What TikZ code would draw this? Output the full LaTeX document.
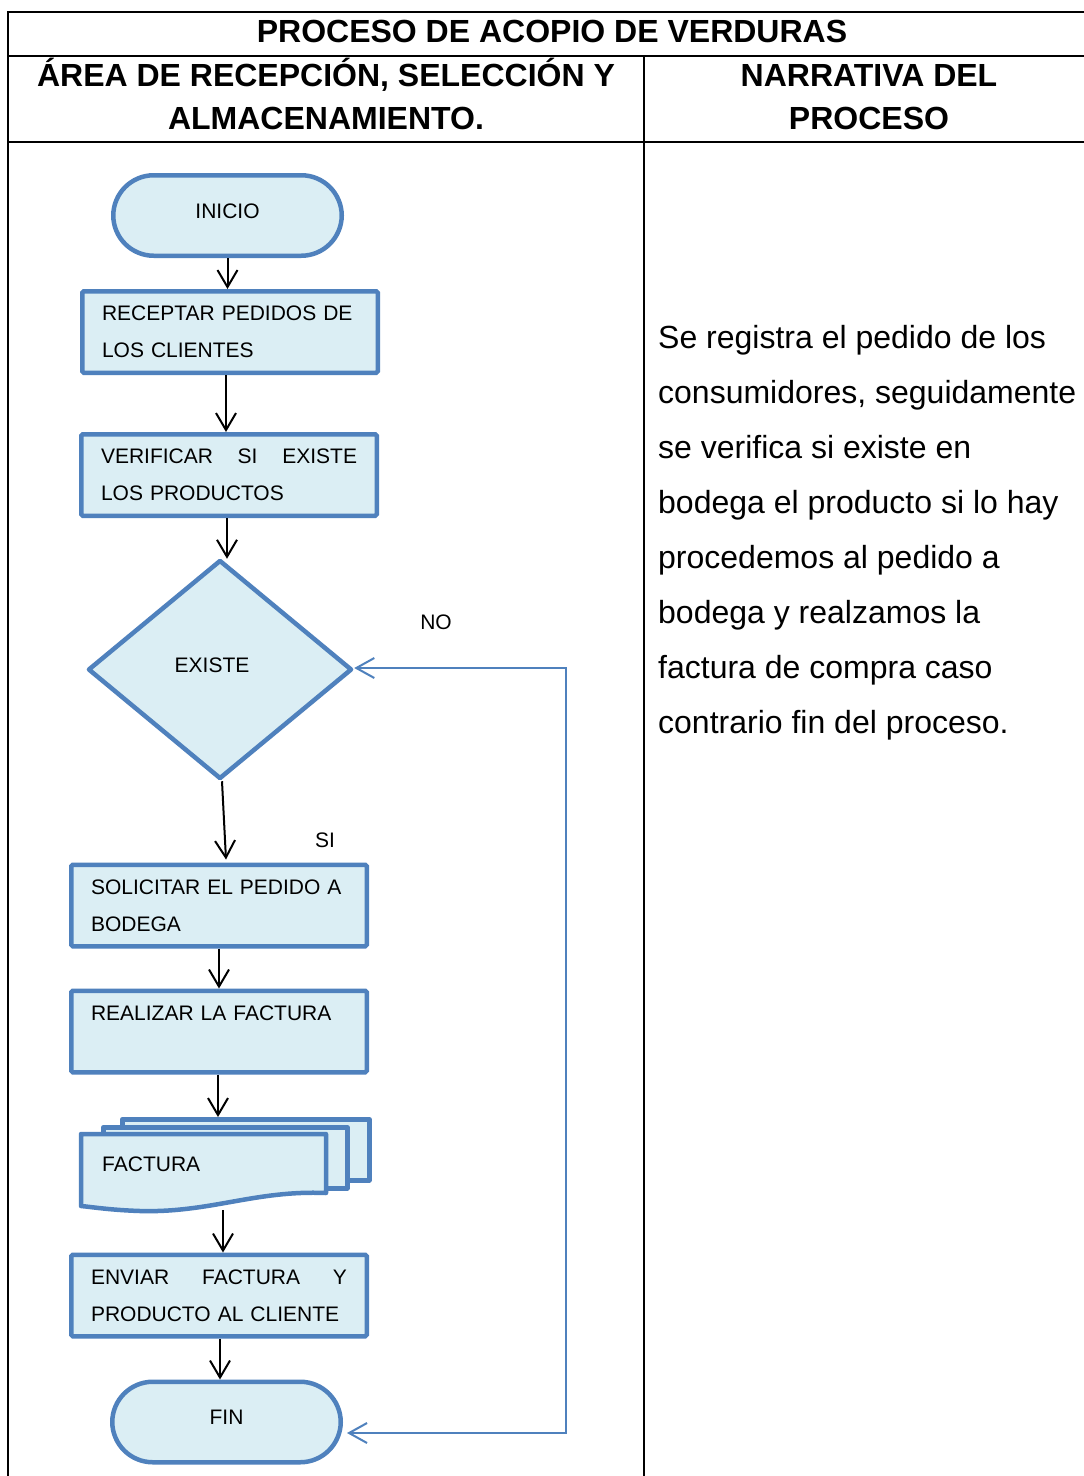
\documentclass[tikz,border=0pt]{standalone}
\usepackage{fontspec}
\setmainfont{Liberation Sans}
\usetikzlibrary{arrows.meta,shapes.geometric}
\definecolor{bord}{HTML}{4F81BD}
\definecolor{fillb}{HTML}{DBEEF4}
\begin{document}
\begin{tikzpicture}[x=1pt,y=-1pt,
  tbl/.style={line width=2pt,black},
  hdr/.style={font=\fontsize{32}{43}\selectfont\bfseries,inner sep=0pt,anchor=base},
  stepbox/.style={draw=bord,fill=fillb,line width=4.5pt,rounded corners=1.5pt,
    minimum width=295.5pt,minimum height=81.5pt,text width=256pt,inner xsep=0pt,
    align=left,font=\fontsize{21}{37}\selectfont},
  termbox/.style={draw=bord,fill=fillb,line width=4.5pt,rounded corners=40.5pt,
    minimum width=228.5pt,minimum height=80.5pt,inner sep=0pt,text depth=9pt,
    font=\fontsize{21}{25}\selectfont},
  decbox/.style={diamond,draw=bord,fill=fillb,line width=4.5pt,line join=round,
    minimum width=264pt,minimum height=219pt,inner sep=0pt},
  pagebox/.style={draw=bord,fill=fillb,line width=4.5pt,line join=round},
  lbl/.style={font=\fontsize{21}{25}\selectfont,inner sep=0pt},
  narr/.style={font=\fontsize{32}{55}\selectfont,inner sep=0pt,anchor=base west},
  arr/.style={line width=2pt,black,-{Straight Barb[length=17pt,width=20pt]}},
  noarr/.style={line width=2pt,bord,{Straight Barb[length=18pt,width=20pt]}-{Straight Barb[length=18pt,width=20pt]}}
]
\useasboundingbox (0,0) rectangle (1084,1476);
\fill[white] (0,0) rectangle (1084,1476);

% table
\draw[tbl] (8,12) -- (1084,12);
\draw[tbl] (8,56) -- (1084,56);
\draw[tbl] (8,142) -- (1084,142);
\draw[tbl] (8,11) -- (8,1476);
\draw[tbl] (644,56) -- (644,1476);

\node[hdr] (h0) at (552,42.5) {PROCESO DE ACOPIO DE VERDURAS};
\node[hdr] (h1) at (326,86.5) {ÁREA DE RECEPCIÓN, SELECCIÓN Y};
\node[hdr] (h2) at (326,129.5) {ALMACENAMIENTO.};
\node[hdr] (h3) at (869,86.5) {NARRATIVA DEL};
\node[hdr] (h4) at (869,129.5) {PROCESO};

% flowchart
\node[termbox] (inicio) at (227.5,215.5) {INICIO};
\node[stepbox] (b1) at (230,332) {RECEPTAR PEDIDOS DE\\LOS CLIENTES};
\node[stepbox] (b2) at (229,475) {VERIFICAR\hfill SI\hfill EXISTE\\LOS PRODUCTOS};
\node[decbox] (dec) at (220,669.5) {};
\node[lbl] (dectxt) at (212,665) {EXISTE};
\node[stepbox] (b3) at (219,905.5) {SOLICITAR EL PEDIDO A\\BODEGA};
\node[stepbox] (b4) at (219,1031.5) {REALIZAR LA FACTURA\\\mbox{}};

% multidocument
\node[pagebox,minimum width=247pt,minimum height=61pt,inner sep=0pt,anchor=north west] (pg3) at (120,1117) {};
\node[pagebox,minimum width=244pt,minimum height=61pt,inner sep=0pt,anchor=north west] (pg2) at (101,1125) {};
\draw[pagebox] (81,1134) -- (326,1134) -- (326,1193)
  .. controls (255,1190) and (210,1213) .. (140,1211)
  .. controls (110,1210) and (92,1207) .. (81,1206) -- cycle;
\node[lbl,anchor=west] (fac) at (102,1164) {FACTURA};
\coordinate (facbot) at (223,1210);

\node[stepbox] (b5) at (219,1295.5) {ENVIAR\hfill FACTURA\hfill Y\\PRODUCTO AL CLIENTE};
\node[termbox] (fin) at (226.5,1422) {FIN};

% arrows
\draw[arr] (inicio.south) -- (inicio.south |- b1.north);
\draw[arr] ([xshift=-4pt]b1.south) -- ([xshift=-4pt]b1.south |- b2.north);
\draw[arr] ([xshift=-2pt]b2.south) -- ([xshift=-2pt,yshift=-1pt]b2.south |- dec.north);
\draw[arr] ([xshift=2pt]dec.south) -- ([xshift=6pt,yshift=3pt]dec.south |- b3.north);
\draw[arr] (b3.south) -- (b3.south |- b4.north);
\draw[arr] ([xshift=-1pt]b4.south) -- ([xshift=-1pt]b4.south |- pg3.north);
\draw[arr] (facbot) -- (facbot |- b5.north);
\draw[arr] ([xshift=1pt]b5.south) -- ([xshift=1pt]b5.south |- fin.north);

% NO connector
\coordinate (ct) at (566,668);
\coordinate (cb) at (566,1433);
\coordinate (finhit) at (347,1433);
\draw[noarr] (dec.east |- ct) -- (ct) -- (cb) -- (finhit);

\node[lbl] (no) at (436,622) {NO};
\node[lbl] (si) at (325,840) {SI};

% narrative
\node[narr] (n1) at (658,348.0) {Se registra el pedido de los};
\node[narr] (n2) at (658,403.1) {consumidores, seguidamente};
\node[narr] (n3) at (658,458.2) {se verifica si existe en};
\node[narr] (n4) at (658,513.3) {bodega el producto si lo hay};
\node[narr] (n5) at (658,568.4) {procedemos al pedido a};
\node[narr] (n6) at (658,623.5) {bodega y realzamos la};
\node[narr] (n7) at (658,678.6) {factura de compra caso};
\node[narr] (n8) at (658,733.7) {contrario fin del proceso.};
\end{tikzpicture}
\end{document}
